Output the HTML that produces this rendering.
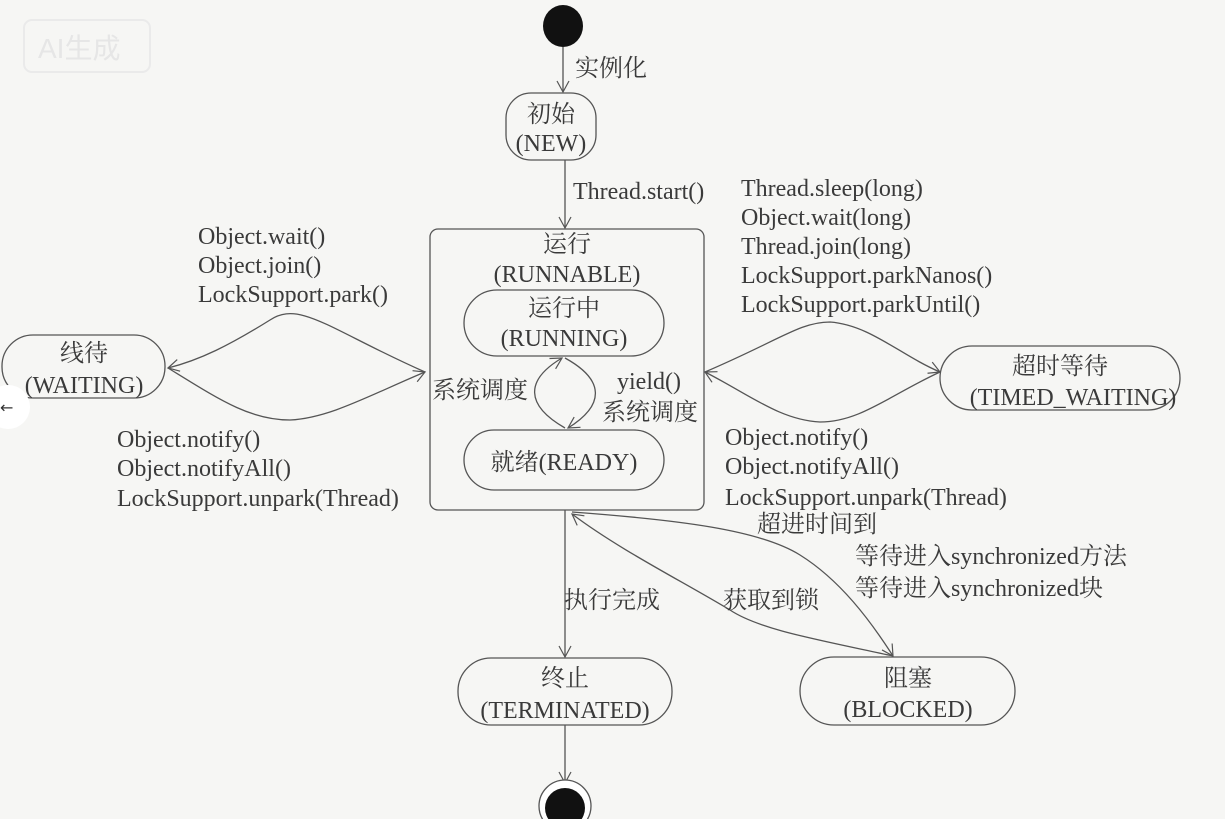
<!DOCTYPE html>
<html><head><meta charset="utf-8"><style>
body{margin:0;background:#f6f6f4;}
svg{display:block}
text{font-family:"Liberation Serif","Noto Serif CJK SC",serif;font-size:24px;fill:#3a3a3a}
</style></head><body>
<svg width="1225" height="819" viewBox="0 0 1225 819" xmlns="http://www.w3.org/2000/svg">
<defs><marker id="a" markerWidth="14" markerHeight="14" refX="12" refY="7" orient="auto" markerUnits="userSpaceOnUse"><path d="M1,1 L12,7 L1,13" fill="none" stroke="#555" stroke-width="1.2"/></marker></defs>
<rect width="1225" height="819" fill="#f6f6f4"/>
<rect x="24" y="20" width="126" height="52" rx="8" fill="none" stroke="#eaeaea" stroke-width="2"/>
<text x="38" y="58" style="font-family:'Liberation Sans','Noto Sans CJK SC',sans-serif;font-size:28px;fill:#e6e6e6">AI生成</text>
<g fill="none" stroke="#555" stroke-width="1.3">
<ellipse cx="563" cy="26" rx="20" ry="21" fill="#111" stroke="none"/>
<line x1="563" y1="47" x2="563" y2="92" marker-end="url(#a)"/>
<rect x="506" y="93" width="90" height="67" rx="25"/>
<line x1="565" y1="160" x2="565" y2="228" marker-end="url(#a)"/>
<rect x="430" y="229" width="274" height="281" rx="8"/>
<rect x="464" y="290" width="200" height="66" rx="33"/>
<rect x="464" y="430" width="200" height="60" rx="30"/>
<path d="M565,428 C525,405 525,380 562,358" marker-end="url(#a)"/>
<path d="M565,358 C605,380 605,405 568,428" marker-end="url(#a)"/>
<rect x="2" y="335" width="163" height="63" rx="31"/>
<path d="M425,372 C330,330 300,300 270,320 C230,345 200,360 168,368" marker-end="url(#a)"/>
<path d="M168,368 C220,400 250,420 290,420 C330,418 370,395 425,372" marker-end="url(#a)"/>
<rect x="940" y="346" width="240" height="64" rx="32"/>
<path d="M705,372 C780,340 800,322 830,322 C870,325 900,355 940,372" marker-end="url(#a)"/>
<path d="M940,372 C890,395 860,422 820,422 C780,420 750,395 705,372" marker-end="url(#a)"/>
<line x1="565" y1="510" x2="565" y2="657" marker-end="url(#a)"/>
<rect x="458" y="658" width="214" height="67" rx="33"/>
<rect x="800" y="657" width="215" height="68" rx="34"/>
<path d="M893,656 C820,640 760,630 730,610 C680,580 620,550 572,514" marker-end="url(#a)"/>
<path d="M572,512 C680,520 760,530 800,555 C840,580 870,620 893,656" marker-end="url(#a)"/>
<line x1="565" y1="725" x2="565" y2="783" marker-end="url(#a)"/>
<circle cx="565" cy="806" r="26" fill="#fff" stroke="#555"/>
<circle cx="565" cy="808" r="20" fill="#111" stroke="none"/>
</g>
<text x="575" y="76">实例化</text>
<text x="551" y="122" text-anchor="middle">初始</text>
<text x="551" y="151" text-anchor="middle">(NEW)</text>
<text x="573" y="199">Thread.start()</text>
<text x="567" y="252" text-anchor="middle">运行</text>
<text x="567" y="282" text-anchor="middle">(RUNNABLE)</text>
<text x="564" y="316" text-anchor="middle">运行中</text>
<text x="564" y="346" text-anchor="middle">(RUNNING)</text>
<text x="564" y="470" text-anchor="middle">就绪(READY)</text>
<text x="432" y="398">系统调度</text>
<text x="617" y="389">yield()</text>
<text x="602" y="420">系统调度</text>
<text x="84" y="361" text-anchor="middle">线待</text>
<text x="84" y="393" text-anchor="middle">(WAITING)</text>
<text x="198" y="244">Object.wait()</text>
<text x="198" y="273">Object.join()</text>
<text x="198" y="302">LockSupport.park()</text>
<text x="117" y="447">Object.notify()</text>
<text x="117" y="476">Object.notifyAll()</text>
<text x="117" y="506">LockSupport.unpark(Thread)</text>
<text x="741" y="196">Thread.sleep(long)</text>
<text x="741" y="225">Object.wait(long)</text>
<text x="741" y="254">Thread.join(long)</text>
<text x="741" y="283">LockSupport.parkNanos()</text>
<text x="741" y="312">LockSupport.parkUntil()</text>
<text x="1060" y="374" text-anchor="middle">超时等待</text>
<text x="1073" y="405" text-anchor="middle">(TIMED_WAITING)</text>
<text x="725" y="445">Object.notify()</text>
<text x="725" y="474">Object.notifyAll()</text>
<text x="725" y="505">LockSupport.unpark(Thread)</text>
<text x="757" y="532">超进时间到</text>
<text x="855" y="564">等待进入synchronized方法</text>
<text x="855" y="596">等待进入synchronized块</text>
<text x="564" y="608">执行完成</text>
<text x="723" y="608">获取到锁</text>
<text x="565" y="686" text-anchor="middle">终止</text>
<text x="565" y="718" text-anchor="middle">(TERMINATED)</text>
<text x="908" y="686" text-anchor="middle">阻塞</text>
<text x="908" y="717" text-anchor="middle">(BLOCKED)</text>
<circle cx="8" cy="407" r="22" fill="#fff"/>
<text x="0" y="413" style="font-family:'DejaVu Sans',sans-serif;font-size:16px;fill:#333">←</text>
</svg>
</body></html>
